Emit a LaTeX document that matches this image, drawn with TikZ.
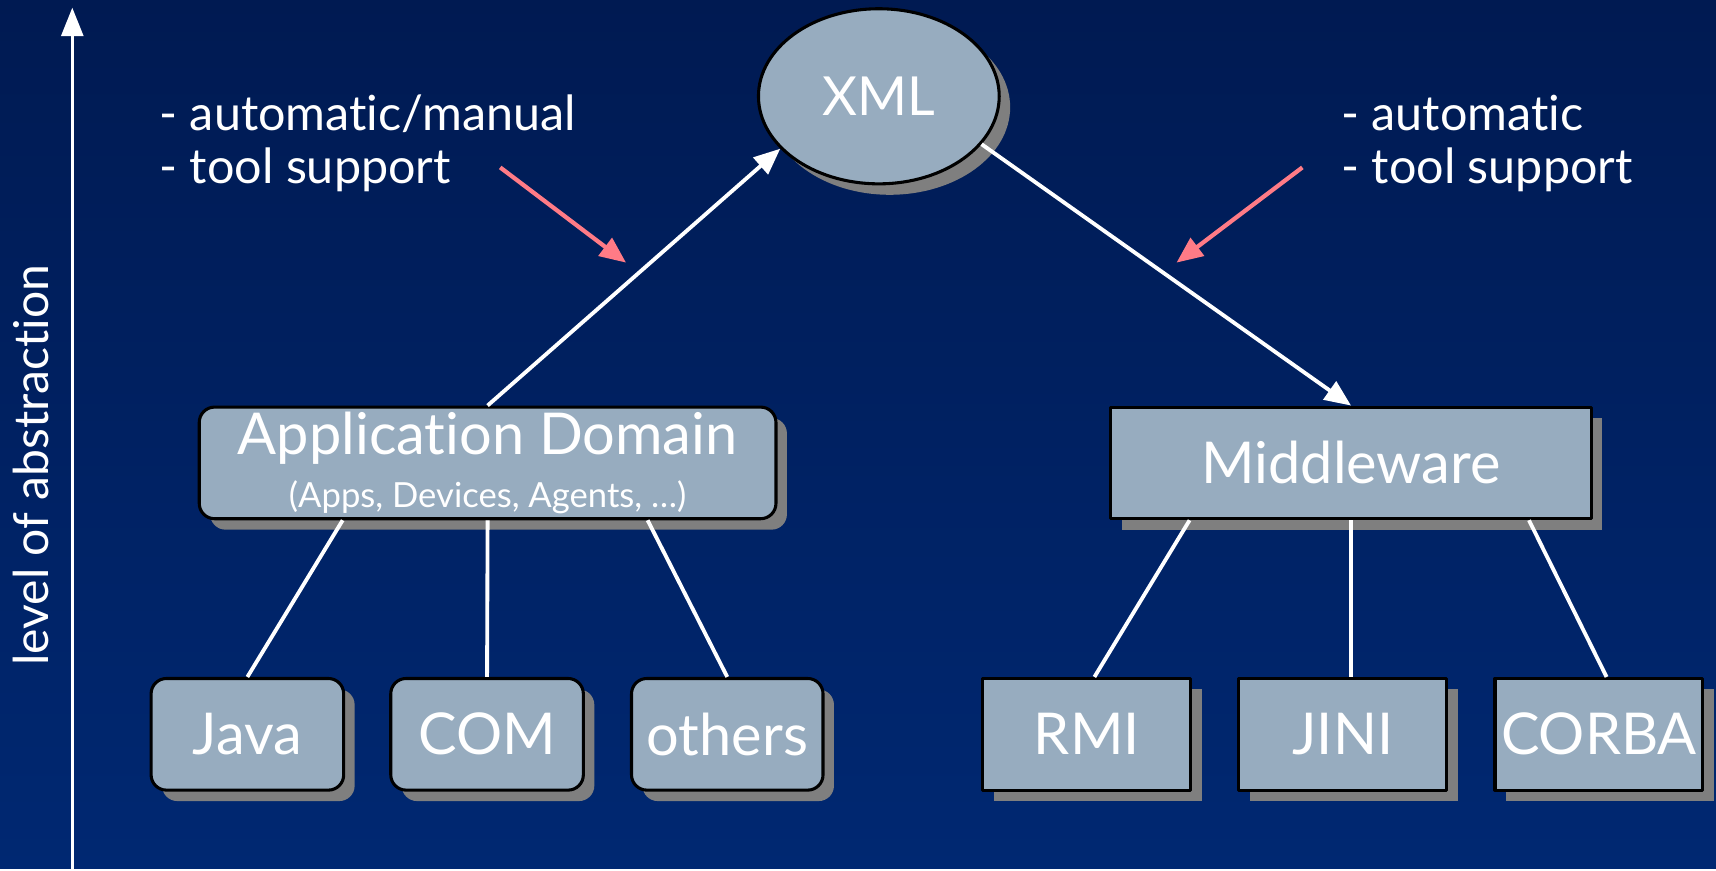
\documentclass[tikz,border=0pt]{standalone}
\usepackage{fontspec}
\setmainfont{Lato}[Ligatures={NoCommon}]
\usetikzlibrary{shapes.geometric,shadows,arrows.meta,calc}
\definecolor{bgtop}{HTML}{001A52}
\definecolor{bgbottom}{HTML}{002872}
\definecolor{boxblue}{HTML}{97ACBF}
\definecolor{shadowgray}{HTML}{7F7F7F}
\definecolor{tipred}{HTML}{FF7B86}
\begin{document}
\begin{tikzpicture}[line join=round,
	box/.style={draw=black, line width=0.8pt, fill=boxblue, text=white, inner sep=0pt, minimum height=1.02cm,
		font=\fontsize{15}{17}\selectfont,
		drop shadow={shadow xshift=0.1cm, shadow yshift=-0.1cm, fill=shadowgray, opacity=1}},
	rbox/.style={box, rounded corners=0.14cm},
	link/.style={white, line width=1pt},
	up/.style={link, -{Triangle[length=0.24cm,width=0.2cm]}},
	hint/.style={tipred, line width=1.1pt, -{Triangle[length=0.24cm,width=0.2cm]}},
	note/.style={text=white, align=left, anchor=west, inner sep=0pt, font=\fontsize{12.6}{13.7}\selectfont}]
	% background
	\shade[top color=bgtop, bottom color=bgbottom] (0,0) rectangle (15.68,7.94);
	
	% level of abstraction axis
	\coordinate (axbot) at (0.66,0);
	\coordinate (axtop) at (0.66,7.87);
	\draw[white, line width=0.8pt, -{Triangle[length=0.26cm,width=0.2cm]}] (axbot)--(axtop);
	\node[rotate=90, text=white, font=\fontsize{12.5}{14}\selectfont] (axis) at (0.28,3.69) {level of abstraction};
	
	% nodes
	\node[ellipse, draw=black, line width=0.8pt, fill=boxblue, text=white, minimum width=2.2cm, minimum height=1.6cm,
		font=\fontsize{14}{16}\selectfont,
		drop shadow={shadow xshift=0.1cm, shadow yshift=-0.1cm, fill=shadowgray, opacity=1}] (xml) at (8.03,7.06) {XML};
	\node[rbox, minimum width=5.27cm, align=center] (app) at (4.455,3.71) {Application Domain\\[-3pt]{\fontsize{9}{10}\selectfont (Apps, Devices, Agents, \dots)}};
	\node[box, minimum width=4.39cm] (mid) at (12.345,3.71) {Middleware};
	
	\node[rbox, minimum width=1.76cm] (java) at (2.26,1.23) {Java};
	\node[rbox, minimum width=1.76cm] (com) at (4.45,1.23) {COM};
	\node[rbox, minimum width=1.75cm] (others) at (6.645,1.23) {others};
	
	\node[box, minimum width=1.9cm] (rmi) at (9.93,1.23) {RMI};
	\node[box, minimum width=1.9cm] (jini) at (12.27,1.23) {JINI};
	\node[box, minimum width=1.9cm] (corba) at (14.61,1.23) {CORBA};
	
	% notes
	\node[note] (lnote) at (1.45,6.63) {- automatic/manual\\- tool support};
	\node[note] (rnote) at (12.25,6.63) {- automatic\\- tool support};
	\coordinate (lfrom) at (4.57,6.41);
	\coordinate (lto) at (5.72,5.54);
	\coordinate (rfrom) at (11.90,6.41);
	\coordinate (rto) at (10.75,5.54);
	\draw[hint] (lfrom)--(lto);
	\draw[hint] (rfrom)--(rto);
	
	% connectors
	\draw[up] (app.north)--(xml.208);
	\draw[up] (xml.-25)--(mid.north);
	\draw[link] ($(app.south west)!0.25!(app.south east)$)--(java.north);
	\draw[link] (app.south)--(com.north);
	\draw[link] ($(app.south west)!0.776!(app.south east)$)--(others.north);
	\draw[link] ($(mid.south west)!0.166!(mid.south east)$)--($(rmi.north)+(0.07,0)$);
	\draw[link] (mid.south)--(mid.south |- jini.north);
	\draw[link] ($(mid.south west)!0.868!(mid.south east)$)--($(corba.north)+(0.07,0)$);
\end{tikzpicture}
\end{document}
